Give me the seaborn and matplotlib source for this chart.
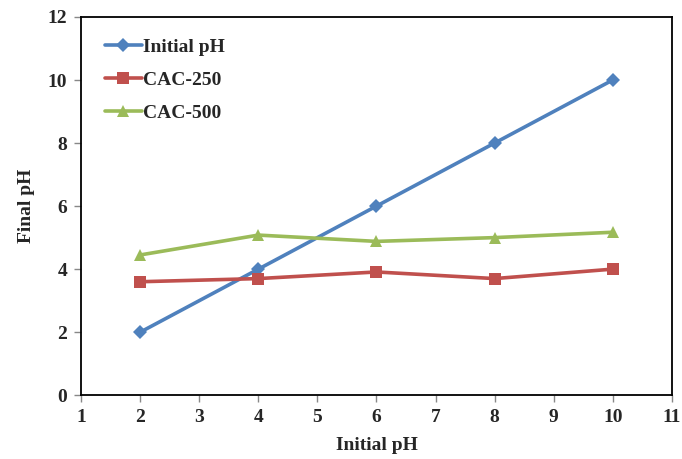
import matplotlib
matplotlib.use("Agg")
import matplotlib.pyplot as plt
import seaborn as sns
import pandas as pd

initial_ph = [2, 4, 6, 8, 10]
final_initial = [2, 4, 6, 8, 10]
final_cac250 = [3.60, 3.70, 3.91, 3.70, 4.00]
final_cac500 = [4.45, 5.08, 4.88, 5.00, 5.17]
series_names = ["Initial pH", "CAC-250", "CAC-500"]

df = pd.DataFrame({
    "Initial pH": initial_ph * 3,
    "Final pH": final_initial + final_cac250 + final_cac500,
    "Series": [s for s in series_names for _ in initial_ph],
})

sns.set_theme(style="white")
plt.rcParams["font.family"] = ["Liberation Serif", "DejaVu Serif"]
plt.rcParams["font.weight"] = "bold"

fig = plt.figure(figsize=(6.82, 4.59), dpi=100)
ax = fig.add_axes([0.119, 0.139, 0.866, 0.824])

palette = {"Initial pH": "#4F81BD", "CAC-250": "#C0504D", "CAC-500": "#9BBB59"}
markers = {"Initial pH": "D", "CAC-250": "s", "CAC-500": "^"}
sizes = {"Initial pH": 7, "CAC-250": 9, "CAC-500": 9}

for name in series_names:
    sub = df[df["Series"] == name]
    sns.lineplot(data=sub, x="Initial pH", y="Final pH", ax=ax, color=palette[name],
                 marker=markers[name], markersize=sizes[name], markeredgewidth=0,
                 linewidth=2.6, label=name)

ax.set_xlim(1, 11)
ax.set_ylim(0, 12)
ax.set_xticks(range(1, 12))
ax.set_yticks(range(0, 13, 2))
ax.tick_params(axis="both", direction="out", length=5, width=1, color="#888888",
               labelsize=14, pad=5, bottom=True, left=True)
for lab in ax.get_xticklabels() + ax.get_yticklabels():
    lab.set_fontweight("bold")
for sp in ax.spines.values():
    sp.set_color("black")
    sp.set_linewidth(1.3)

ax.set_xlabel("Initial pH", fontsize=14, fontweight="bold", labelpad=8)
ax.set_ylabel("Final pH", fontsize=14, fontweight="bold", labelpad=9)

leg = ax.legend(loc="upper left", frameon=False, fontsize=14, handlelength=1.9,
                borderaxespad=0.5, labelspacing=0.8, handletextpad=0.1,
                bbox_to_anchor=(0.01, 0.99))
for t in leg.get_texts():
    t.set_fontweight("bold")

fig.savefig("out.png", dpi=100)
